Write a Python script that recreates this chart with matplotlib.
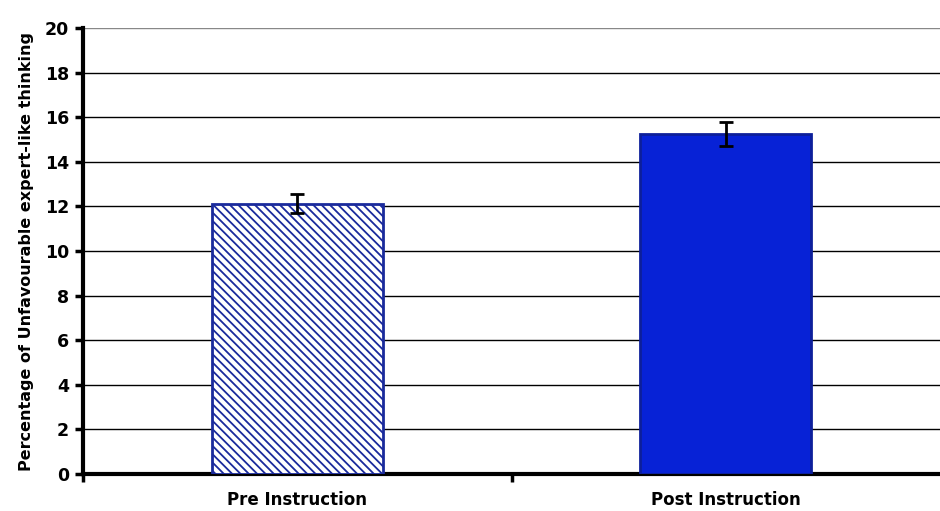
import matplotlib.pyplot as plt
import numpy as np

categories = ['Pre Instruction', 'Post Instruction']
values = [12.13, 15.25]
errors = [0.42, 0.55]

plt.rcParams['hatch.color'] = '#1a2a8c'
plt.rcParams['hatch.linewidth'] = 1.3

fig = plt.figure(figsize=(9.4, 5.11), dpi=100)
ax = fig.add_axes([0.0883, 0.0724, 0.9117, 0.8728])

x = np.arange(len(categories)) + 0.5
bars = ax.bar(x, values, width=0.4, zorder=3, linewidth=2)
bars[0].set_facecolor('white')
bars[0].set_edgecolor('#1a2a9c')
bars[0].set_hatch('\\\\\\\\')
bars[1].set_facecolor('#0722d6')
bars[1].set_edgecolor('#0d1f9a')
ax.errorbar(x, values, yerr=errors, fmt='none', ecolor='black', elinewidth=2,
            capsize=5, capthick=2, zorder=4)

ax.set_xlim(0, 2)
ax.set_ylim(0, 20)
ax.set_yticks(range(0, 21, 2))
ax.yaxis.grid(True, color='black', linewidth=1, zorder=0)
ax.set_axisbelow(True)
ax.get_ygridlines()[-1].set_color('#888888')

ax.set_xticks(x)
ax.set_xticklabels(categories, fontsize=12, fontweight='bold')
ax.set_xticks([0, 1], minor=True)
ax.tick_params(axis='x', which='major', length=0, pad=12)
ax.tick_params(axis='x', which='minor', length=6, width=2.5, direction='out')
ax.tick_params(axis='y', length=6, width=2.5, labelsize=12.5, pad=4)
for lab in ax.get_yticklabels():
    lab.set_fontweight('bold')

ax.set_ylabel('Percentage of Unfavourable expert-like thinking', fontsize=11.5,
              fontweight='bold', labelpad=8)

ax.spines['top'].set_visible(False)
ax.spines['right'].set_visible(False)
ax.spines['left'].set_linewidth(3)
ax.spines['bottom'].set_linewidth(3)

fig.savefig('out.png', dpi=100)
